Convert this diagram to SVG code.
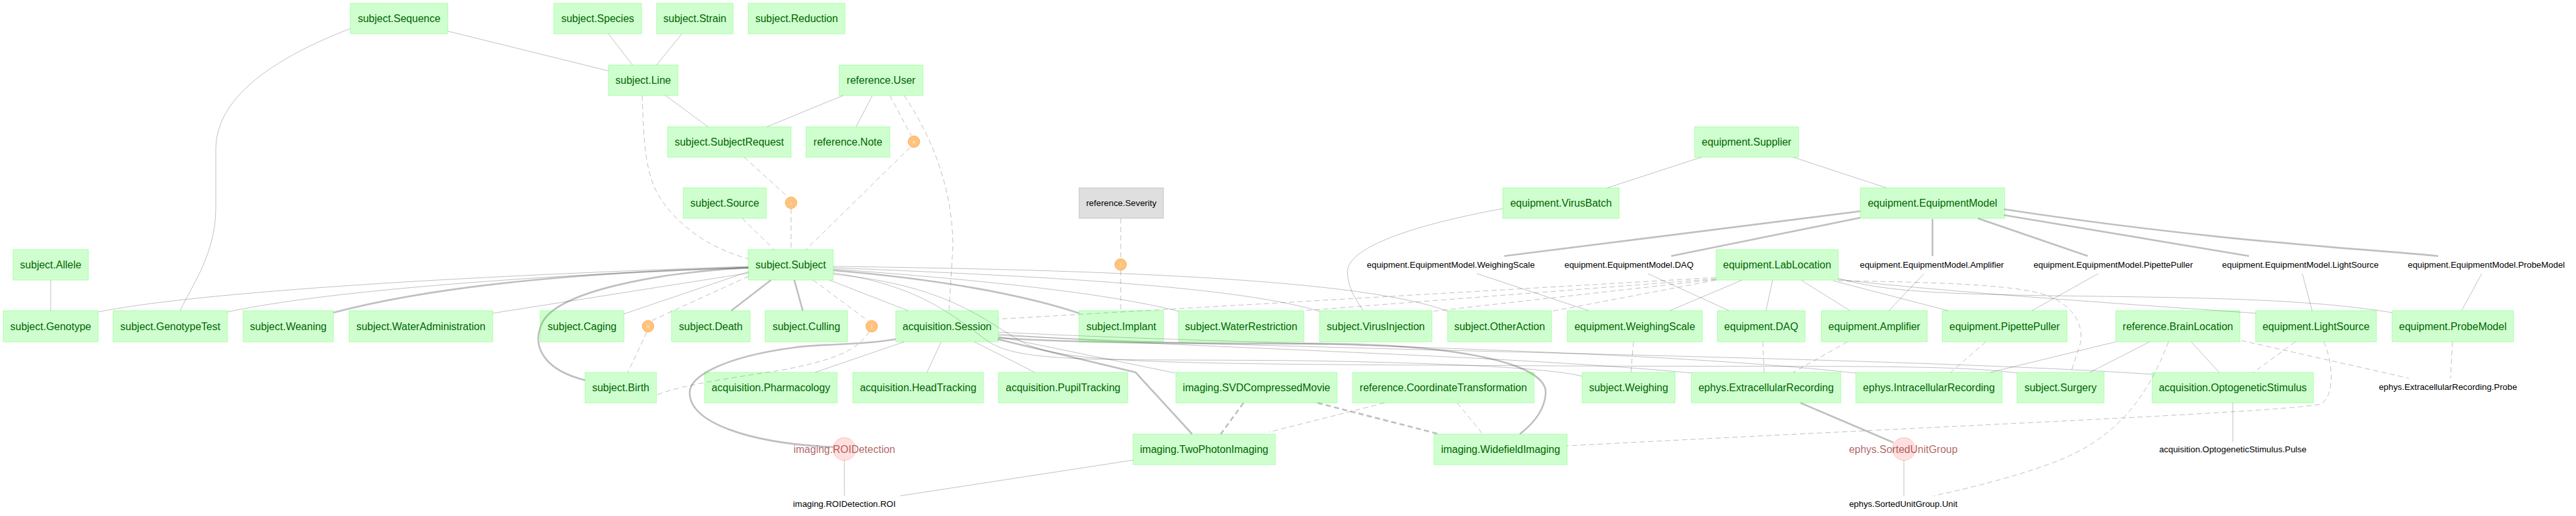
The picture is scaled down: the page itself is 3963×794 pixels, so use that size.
<svg xmlns="http://www.w3.org/2000/svg" width="3963" height="794" viewBox="0 0 3963 794">
<style>
.m rect{fill:#00FF00;fill-opacity:.19;stroke:#00FF00;stroke-opacity:.19;stroke-width:1.3}
.m text{font-family:"Liberation Sans",Arial,sans-serif;font-size:16px;fill:#006400;text-anchor:middle}
.l rect{fill:#000;fill-opacity:.125;stroke:#000;stroke-opacity:.125;stroke-width:1.3}
.l text,.p text{font-family:"Liberation Sans",Arial,sans-serif;font-size:13.33px;fill:#000;text-anchor:middle}
.a circle{fill:#FF8800;fill-opacity:.5;stroke:#FF8800;stroke-opacity:.5;stroke-width:1}
.a text{font-family:"Liberation Sans",Arial,sans-serif;font-size:7px;fill:#fff;fill-opacity:.7;text-anchor:middle}
.c circle{fill:#FF0000;fill-opacity:.125;stroke:#FF0000;stroke-opacity:.125;stroke-width:1.3}
.c text{font-family:"Liberation Sans",Arial,sans-serif;font-size:16px;fill:#7F0000;fill-opacity:.63;text-anchor:middle}
#edges path{fill:none;stroke:#000;stroke-opacity:.25;stroke-width:1}
#edges path.t{stroke-width:2.67}
#edges path.d{stroke-dasharray:8,5}
</style>
<rect width="3963" height="794" fill="#fff"/>
<g id="edges">
<path d="M689,48 L936,109"/>
<path d="M539,44 C420,90 332,150 332,230 L332,320 C332,390 295,440 277,478"/>
<path d="M936,52 L973,100"/>
<path d="M1049,52 L1010,100"/>
<path d="M1024,147 L1089,195"/>
<path d="M1297,147 L1180,195"/>
<path d="M1342,147 L1317,195"/>
<path d="M2617,242 L2473,289"/>
<path d="M2759,242 L2902,289"/>
<path d="M2312,321 C2180,345 2070,380 2073,420 C2075,450 2090,465 2097,478"/>
<path d="M78,431 L78,478"/>
<path d="M151,480 C300,450 700,425 1151,410"/>
<path d="M350,480 C500,448 800,425 1151,411"/>
<path class="t" d="M513,481 C650,445 850,420 1151,412"/>
<path d="M758,482 L1152,420"/>
<path d="M960,483 L1152,418"/>
<path class="t" d="M1152,412 C1000,420 860,450 835,495 C815,535 840,570 900,585"/>
<path class="t" d="M1186,431 L1125,478"/>
<path class="t" d="M1222,431 L1235,478"/>
<path d="M1276,431 L1397,478"/>
<path class="t" d="M1282,416 C1450,430 1580,455 1660,482"/>
<path d="M1282,414 C1500,430 1700,450 1813,479"/>
<path d="M1282,412 C1600,425 1900,440 2030,479"/>
<path d="M1282,410 C1700,415 2100,430 2227,479"/>
<path d="M1282,420 C1420,440 1470,490 1520,525 C1570,560 1700,552 2000,555 C2200,558 2380,565 2434,579"/>
<path d="M1282,422 C1470,440 1520,500 1580,530 C1650,560 1800,560 2400,563 C2800,565 3000,560 3103,574"/>
<path d="M1391,526 L1254,573"/>
<path d="M1448,526 L1426,573"/>
<path d="M1499,526 L1592,573"/>
<path d="M1536,518 L1808,574"/>
<path d="M1536,514 C1800,535 2300,545 2602,574"/>
<path d="M1536,511 C1900,530 2500,535 2855,574"/>
<path d="M1536,516 C2000,540 2900,548 3311,576"/>
<path d="M2680,431 L2569,478"/>
<path d="M2727,431 L2717,478"/>
<path d="M2771,431 L2846,478"/>
<path d="M2820,432 L2997,478"/>
<path d="M2828,430 C3000,450 3300,470 3470,482"/>
<path d="M2828,428 C2900,450 3000,452 3150,455 C3400,458 3550,460 3680,481"/>
<path d="M2272,421 L2444,478"/>
<path d="M2535,421 L2660,478"/>
<path d="M2960,421 L2906,478"/>
<path d="M3228,421 L3126,478"/>
<path d="M3542,421 L3557,478"/>
<path d="M3818,421 L3787,478"/>
<path d="M3255,526 L3062,573"/>
<path d="M3307,526 L3215,573"/>
<path d="M3371,526 L3414,573"/>
<path d="M3435,620 L3435,680"/>
<path d="M2929,708 L2929,763"/>
<path d="M1299,708 L1299,763"/>
<path d="M1743,708 L1385,763"/>
<path class="t" d="M2862,325 L2314,394"/>
<path class="t" d="M2862,335 L2571,394"/>
<path class="t" d="M2973,337 L2973,394"/>
<path class="t" d="M3043,336 L3212,394"/>
<path class="t" d="M3083,331 L3460,394"/>
<path class="t" d="M3083,322 C3400,370 3600,380 3751,394"/>
<path class="t" d="M1378,522 C1320,532 1270,528 1220,535 C1110,550 1060,580 1061,605 C1062,650 1150,682 1282,688"/>
<path class="t" d="M1535,522 L1747,573 L1834,668"/>
<path class="t" d="M1536,520 C1700,530 1900,528 2050,529 C2250,532 2380,560 2378,605 C2376,635 2355,655 2338,668"/>
<path class="t" d="M2770,620 L2913,681"/>
<path class="t d" d="M1913,620 L1878,668"/>
<path class="t d" d="M2027,620 L2214,668"/>
<path class="d" d="M1369,147 L1402,209"/>
<path class="d" d="M1400,227 L1240,384"/>
<path class="d" d="M1391,147 C1440,220 1466,300 1466,380 L1460,478"/>
<path class="d" d="M988,147 C990,210 992,260 1010,295 C1040,350 1100,385 1151,398"/>
<path class="d" d="M1145,242 L1212,303"/>
<path class="d" d="M1217,321 L1217,384"/>
<path class="d" d="M1142,336 L1191,384"/>
<path class="d" d="M1724,336 L1724,398"/>
<path class="d" d="M1724,416 L1724,478"/>
<path class="d" d="M1251,431 L1336,494"/>
<path class="d" d="M1337,510 C1320,540 1280,555 1200,570 C1100,585 1040,595 1010,608"/>
<path class="d" d="M1152,425 L1001,494"/>
<path class="d" d="M995,511 L966,573"/>
<path class="d" d="M2640,427 L1536,491"/>
<path class="d" d="M2640,429 L2006,478"/>
<path class="d" d="M2640,430 L2204,479"/>
<path class="d" d="M2640,431 L2387,479"/>
<path class="d" d="M2828,432 C2950,434 3100,436 3150,455 C3200,475 3205,510 3200,530 L3186,573"/>
<path class="d" d="M2513,526 L2509,573"/>
<path class="d" d="M2712,526 L2714,573"/>
<path class="d" d="M2842,526 L2759,573"/>
<path class="d" d="M3055,526 L3001,573"/>
<path class="d" d="M3448,524 L3706,582"/>
<path class="d" d="M3773,526 L3770,582"/>
<path class="d" d="M3336,526 C3300,620 3250,680 3150,715 C3080,740 3010,755 2975,763"/>
<path class="d" d="M3531,526 L3467,573"/>
<path class="d" d="M3575,526 C3590,560 3592,610 3570,622 C3500,635 3000,655 2411,686"/>
<path class="d" d="M2130,620 L1952,665"/>
<path class="d" d="M2242,620 L2281,668"/>
</g>
<g id="subject.Sequence" class="m"><rect x="539" y="5" width="150" height="47"/><text x="614" y="34">subject.Sequence</text></g>
<g id="subject.Species" class="m"><rect x="852" y="5" width="135" height="47"/><text x="919.5" y="34">subject.Species</text></g>
<g id="subject.Strain" class="m"><rect x="1010" y="5" width="118" height="47"/><text x="1069" y="34">subject.Strain</text></g>
<g id="subject.Reduction" class="m"><rect x="1151" y="5" width="149" height="47"/><text x="1225.5" y="34">subject.Reduction</text></g>
<g id="subject.Line" class="m"><rect x="936" y="100" width="107" height="47"/><text x="989.5" y="129">subject.Line</text></g>
<g id="reference.User" class="m"><rect x="1291" y="100" width="129" height="47"/><text x="1355.5" y="129">reference.User</text></g>
<g id="subject.SubjectRequest" class="m"><rect x="1027" y="195" width="190" height="47"/><text x="1122" y="224">subject.SubjectRequest</text></g>
<g id="reference.Note" class="m"><rect x="1240" y="195" width="129" height="47"/><text x="1304.5" y="224">reference.Note</text></g>
<g id="alias4" class="a"><circle cx="1406" cy="218" r="9"/><text x="1406" y="220.5">4</text></g>
<g id="equipment.Supplier" class="m"><rect x="2607" y="195" width="160" height="47"/><text x="2687" y="224">equipment.Supplier</text></g>
<g id="subject.Source" class="m"><rect x="1051" y="289" width="128" height="47"/><text x="1115" y="318">subject.Source</text></g>
<g id="alias3" class="a"><circle cx="1217" cy="312" r="9"/><text x="1217" y="314.5">3</text></g>
<g id="reference.Severity" class="l"><rect x="1660" y="289" width="130" height="47"/><text x="1725" y="317">reference.Severity</text></g>
<g id="equipment.VirusBatch" class="m"><rect x="2312" y="289" width="179" height="47"/><text x="2401.5" y="318">equipment.VirusBatch</text></g>
<g id="equipment.EquipmentModel" class="m"><rect x="2862" y="289" width="222" height="47"/><text x="2973" y="318">equipment.EquipmentModel</text></g>
<g id="subject.Allele" class="m"><rect x="20" y="384" width="116" height="47"/><text x="78" y="413">subject.Allele</text></g>
<g id="subject.Subject" class="m"><rect x="1151" y="384" width="131" height="47"/><text x="1216.5" y="413">subject.Subject</text></g>
<g id="alias2" class="a"><circle cx="1724" cy="407" r="9"/><text x="1724" y="409.5">2</text></g>
<g id="equipment.EquipmentModel.WeighingScale" class="p"><text x="2232" y="412">equipment.EquipmentModel.WeighingScale</text></g>
<g id="equipment.EquipmentModel.DAQ" class="p"><text x="2506" y="412">equipment.EquipmentModel.DAQ</text></g>
<g id="equipment.LabLocation" class="m"><rect x="2640" y="384" width="188" height="47"/><text x="2734" y="413">equipment.LabLocation</text></g>
<g id="equipment.EquipmentModel.Amplifier" class="p"><text x="2972" y="412">equipment.EquipmentModel.Amplifier</text></g>
<g id="equipment.EquipmentModel.PipettePuller" class="p"><text x="3251" y="412">equipment.EquipmentModel.PipettePuller</text></g>
<g id="equipment.EquipmentModel.LightSource" class="p"><text x="3539" y="412">equipment.EquipmentModel.LightSource</text></g>
<g id="equipment.EquipmentModel.ProbeModel" class="p"><text x="3825" y="412">equipment.EquipmentModel.ProbeModel</text></g>
<g id="subject.Genotype" class="m"><rect x="5" y="478" width="146" height="48"/><text x="78" y="507.5">subject.Genotype</text></g>
<g id="subject.GenotypeTest" class="m"><rect x="174" y="478" width="176" height="48"/><text x="262" y="507.5">subject.GenotypeTest</text></g>
<g id="subject.Weaning" class="m"><rect x="374" y="478" width="139" height="48"/><text x="443.5" y="507.5">subject.Weaning</text></g>
<g id="subject.WaterAdministration" class="m"><rect x="537" y="478" width="221" height="48"/><text x="647.5" y="507.5">subject.WaterAdministration</text></g>
<g id="subject.Caging" class="m"><rect x="831" y="478" width="129" height="48"/><text x="895.5" y="507.5">subject.Caging</text></g>
<g id="alias0" class="a"><circle cx="997" cy="502" r="9"/><text x="997" y="504.5">0</text></g>
<g id="subject.Death" class="m"><rect x="1033" y="478" width="121" height="48"/><text x="1093.5" y="507.5">subject.Death</text></g>
<g id="subject.Culling" class="m"><rect x="1177" y="478" width="127" height="48"/><text x="1240.5" y="507.5">subject.Culling</text></g>
<g id="alias1" class="a"><circle cx="1341" cy="502" r="9"/><text x="1341" y="504.5">1</text></g>
<g id="acquisition.Session" class="m"><rect x="1378" y="478" width="158" height="48"/><text x="1457" y="507.5">acquisition.Session</text></g>
<g id="subject.Implant" class="m"><rect x="1660" y="478" width="130" height="48"/><text x="1725" y="507.5">subject.Implant</text></g>
<g id="subject.WaterRestriction" class="m"><rect x="1813" y="478" width="193" height="48"/><text x="1909.5" y="507.5">subject.WaterRestriction</text></g>
<g id="subject.VirusInjection" class="m"><rect x="2030" y="478" width="173" height="48"/><text x="2116.5" y="507.5">subject.VirusInjection</text></g>
<g id="subject.OtherAction" class="m"><rect x="2227" y="478" width="160" height="48"/><text x="2307" y="507.5">subject.OtherAction</text></g>
<g id="equipment.WeighingScale" class="m"><rect x="2411" y="478" width="208" height="48"/><text x="2515" y="507.5">equipment.WeighingScale</text></g>
<g id="equipment.DAQ" class="m"><rect x="2642" y="478" width="135" height="48"/><text x="2709.5" y="507.5">equipment.DAQ</text></g>
<g id="equipment.Amplifier" class="m"><rect x="2802" y="478" width="163" height="48"/><text x="2883.5" y="507.5">equipment.Amplifier</text></g>
<g id="equipment.PipettePuller" class="m"><rect x="2988" y="478" width="192" height="48"/><text x="3084" y="507.5">equipment.PipettePuller</text></g>
<g id="reference.BrainLocation" class="m"><rect x="3255" y="478" width="191" height="48"/><text x="3350.5" y="507.5">reference.BrainLocation</text></g>
<g id="equipment.LightSource" class="m"><rect x="3470" y="478" width="186" height="48"/><text x="3563" y="507.5">equipment.LightSource</text></g>
<g id="equipment.ProbeModel" class="m"><rect x="3680" y="478" width="187" height="48"/><text x="3773.5" y="507.5">equipment.ProbeModel</text></g>
<g id="subject.Birth" class="m"><rect x="900" y="573" width="110" height="47"/><text x="955" y="602">subject.Birth</text></g>
<g id="acquisition.Pharmacology" class="m"><rect x="1084" y="573" width="204" height="47"/><text x="1186" y="602">acquisition.Pharmacology</text></g>
<g id="acquisition.HeadTracking" class="m"><rect x="1312" y="573" width="201" height="47"/><text x="1412.5" y="602">acquisition.HeadTracking</text></g>
<g id="acquisition.PupilTracking" class="m"><rect x="1536" y="573" width="199" height="47"/><text x="1635.5" y="602">acquisition.PupilTracking</text></g>
<g id="imaging.SVDCompressedMovie" class="m"><rect x="1809" y="573" width="248" height="47"/><text x="1933" y="602">imaging.SVDCompressedMovie</text></g>
<g id="reference.CoordinateTransformation" class="m"><rect x="2081" y="573" width="279" height="47"/><text x="2220.5" y="602">reference.CoordinateTransformation</text></g>
<g id="subject.Weighing" class="m"><rect x="2434" y="573" width="143" height="47"/><text x="2505.5" y="602">subject.Weighing</text></g>
<g id="ephys.ExtracellularRecording" class="m"><rect x="2602" y="573" width="230" height="47"/><text x="2717" y="602">ephys.ExtracellularRecording</text></g>
<g id="ephys.IntracellularRecording" class="m"><rect x="2855" y="573" width="225" height="47"/><text x="2967.5" y="602">ephys.IntracellularRecording</text></g>
<g id="subject.Surgery" class="m"><rect x="3103" y="573" width="134" height="47"/><text x="3170" y="602">subject.Surgery</text></g>
<g id="acquisition.OptogeneticStimulus" class="m"><rect x="3311" y="573" width="248" height="47"/><text x="3435" y="602">acquisition.OptogeneticStimulus</text></g>
<g id="ephys.ExtracellularRecording.Probe" class="p"><text x="3766" y="600">ephys.ExtracellularRecording.Probe</text></g>
<g id="imaging.ROIDetection" class="c"><circle cx="1299" cy="691" r="17.5"/><text x="1299" y="697">imaging.ROIDetection</text></g>
<g id="imaging.TwoPhotonImaging" class="m"><rect x="1743" y="668" width="219" height="47"/><text x="1852.5" y="697">imaging.TwoPhotonImaging</text></g>
<g id="imaging.WidefieldImaging" class="m"><rect x="2206" y="668" width="205" height="47"/><text x="2308.5" y="697">imaging.WidefieldImaging</text></g>
<g id="ephys.SortedUnitGroup" class="c"><circle cx="2929" cy="691" r="17.5"/><text x="2928" y="697">ephys.SortedUnitGroup</text></g>
<g id="acquisition.OptogeneticStimulus.Pulse" class="p"><text x="3435" y="696">acquisition.OptogeneticStimulus.Pulse</text></g>
<g id="imaging.ROIDetection.ROI" class="p"><text x="1299" y="780">imaging.ROIDetection.ROI</text></g>
<g id="ephys.SortedUnitGroup.Unit" class="p"><text x="2928" y="780">ephys.SortedUnitGroup.Unit</text></g>
</svg>
